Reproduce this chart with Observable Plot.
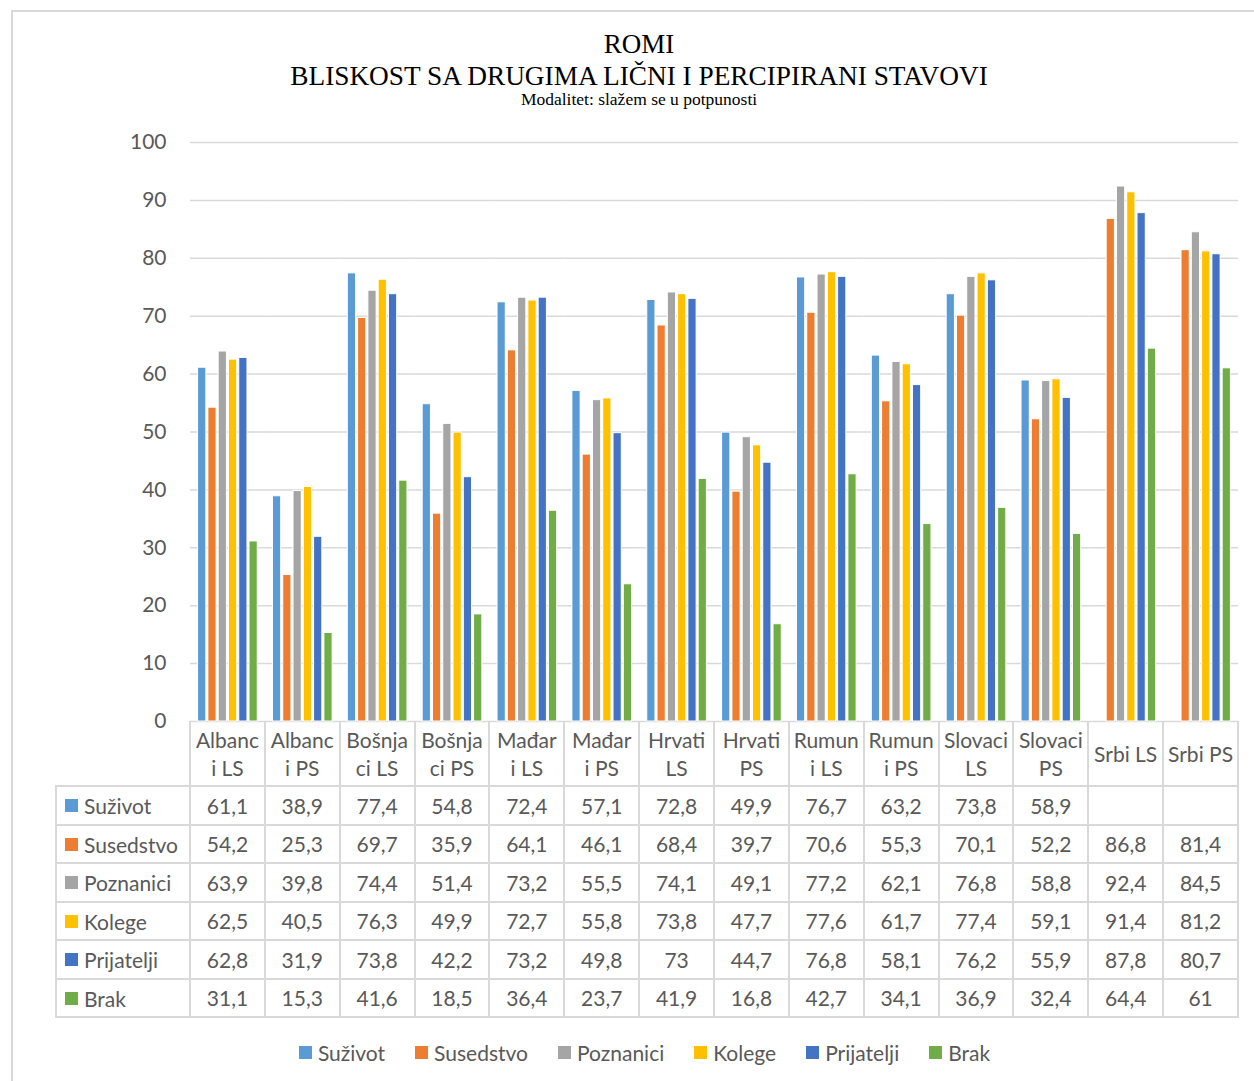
<!DOCTYPE html>
<html>
<head>
<meta charset="utf-8">
<script src="https://cdn.jsdelivr.net/npm/d3@7"></script>
<script src="https://cdn.jsdelivr.net/npm/@observablehq/plot@0.6"></script>
<style>
  html, body { margin: 0; padding: 0; background: #fff; }
  #page { position: relative; width: 1254px; height: 1081px; overflow: hidden; font-family: Lato, "Open Sans", sans-serif; color: #595959; }
  .abs { position: absolute; }
  .title { position: absolute; left: 0; width: 1278px; text-align: center; font-family: "Liberation Serif", "DejaVu Serif", serif; color: #000; white-space: nowrap; }
  .hl { position: absolute; height: 2px; background: #d9d9d9; }
  .vl { position: absolute; width: 2px; background: #d9d9d9; }
  .cell { position: absolute; display: flex; flex-direction: column; align-items: center; justify-content: center; font-size: 21px; line-height: 28px; white-space: nowrap; }
  .rowlab { position: absolute; display: flex; align-items: center; font-size: 21px; white-space: nowrap; }
  .sw { display: inline-block; width: 13px; height: 13px; margin-right: 6px; }
  #legend { position: absolute; left: 0; width: 1289px; top: 1040px; display: flex; justify-content: center; font-size: 21px; }
  #legend .item { display: flex; align-items: center; margin: 0 15px; }
</style>
</head>
<body>
<div id="page">
  <div class="abs" style="left:11px;top:10px;width:1300px;height:1200px;border-top:2px solid #d9d9d9;border-left:2px solid #d9d9d9;"></div>
  <div class="title" style="top:29px;font-size:27px;">ROMI</div>
  <div class="title" style="top:61px;font-size:27.3px;">BLISKOST SA DRUGIMA LIČNI I PERCIPIRANI STAVOVI</div>
  <div class="title" style="top:89px;font-size:17.5px;">Modalitet: slažem se u potpunosti</div>
  <div id="chart" class="abs" style="left:0;top:120px;"></div>
  <div id="table"></div>
  <div id="legend"></div>
</div>
<script>
// ---- data ----
const categories = ["Albanci LS","Albanci PS","Bošnjaci LS","Bošnjaci PS","Mađari LS","Mađari PS","Hrvati LS","Hrvati PS","Rumuni LS","Rumuni PS","Slovaci LS","Slovaci PS","Srbi LS","Srbi PS"];
const headerLabels = [["Albanc","i LS"],["Albanc","i PS"],["Bošnja","ci LS"],["Bošnja","ci PS"],["Mađar","i LS"],["Mađar","i PS"],["Hrvati","LS"],["Hrvati","PS"],["Rumun","i LS"],["Rumun","i PS"],["Slovaci","LS"],["Slovaci","PS"],["Srbi LS"],["Srbi PS"]];
const seriesNames = ["Suživot","Susedstvo","Poznanici","Kolege","Prijatelji","Brak"];
const colors = ["#5B9BD5","#ED7D31","#A5A5A5","#FFC000","#4472C4","#70AD47"];
const suzivot    = [61.1,38.9,77.4,54.8,72.4,57.1,72.8,49.9,76.7,63.2,73.8,58.9,null,null];
const susedstvo  = [54.2,25.3,69.7,35.9,64.1,46.1,68.4,39.7,70.6,55.3,70.1,52.2,86.8,81.4];
const poznanici  = [63.9,39.8,74.4,51.4,73.2,55.5,74.1,49.1,77.2,62.1,76.8,58.8,92.4,84.5];
const kolege     = [62.5,40.5,76.3,49.9,72.7,55.8,73.8,47.7,77.6,61.7,77.4,59.1,91.4,81.2];
const prijatelji = [62.8,31.9,73.8,42.2,73.2,49.8,73,44.7,76.8,58.1,76.2,55.9,87.8,80.7];
const brak       = [31.1,15.3,41.6,18.5,36.4,23.7,41.9,16.8,42.7,34.1,36.9,32.4,64.4,61];
const yTicks = [0,10,20,30,40,50,60,70,80,90,100];

const seriesValues = [suzivot, susedstvo, poznanici, kolege, prijatelji, brak];
const rows = [];
seriesNames.forEach((s, si) => categories.forEach((c, ci) => {
  const v = seriesValues[si][ci];
  if (v != null) rows.push({cat: c, series: s, value: v});
}));

// ---- chart ----
const plotLeft = 190, plotRight = 1238;
const chart = Plot.plot({
  width: 1254, height: 603,
  marginLeft: plotLeft, marginRight: 1254 - plotRight, marginTop: 22, marginBottom: 2,
  style: {fontFamily: "Lato, 'Open Sans', sans-serif", fontSize: "21px", color: "#595959", background: "transparent", overflow: "visible"},
  fx: {domain: categories, padding: 0, round: false, axis: null, label: null},
  x: {domain: seriesNames, paddingInner: 0.2, paddingOuter: 0.74, round: false, axis: null},
  y: {domain: [0, 100], ticks: yTicks, tickSize: 0, tickPadding: 24, label: null, tickFormat: d => String(d)},
  color: {domain: seriesNames, range: colors},
  marks: [
    Plot.ruleY(yTicks, {stroke: "#d9d9d9", strokeWidth: 1.5}),
    Plot.barY(rows, {fx: "cat", x: "series", y: "value", fill: "series", stroke: "white", strokeWidth: 1})
  ]
});
document.getElementById("chart").appendChild(chart);

// ---- data table ----
const table = document.getElementById("table");
const cw = (plotRight - plotLeft) / categories.length;
const headTop = 721, headBottom = 786;
const rowLines = [786, 825, 863, 902, 940, 979, 1017];
const tableLeft = 56;
function add(cls, style, html) {
  const d = document.createElement("div");
  d.className = cls;
  Object.assign(d.style, style);
  if (html != null) d.innerHTML = html;
  table.appendChild(d);
  return d;
}
rowLines.forEach(y => add("hl", {left: tableLeft + "px", top: (y - 1) + "px", width: (plotRight - tableLeft + 1) + "px"}));
for (let i = 0; i <= categories.length; i++) {
  const x = plotLeft + i * cw;
  add("vl", {left: (x - 1) + "px", top: headTop + "px", height: (rowLines[rowLines.length - 1] - headTop + 1) + "px"});
}
add("vl", {left: (tableLeft - 1) + "px", top: (rowLines[0] - 1) + "px", height: (rowLines[rowLines.length - 1] - rowLines[0] + 2) + "px"});
headerLabels.forEach((lines, i) => {
  add("cell", {left: (plotLeft + i * cw) + "px", top: headTop + "px", width: cw + "px", height: (headBottom - headTop) + "px"},
      lines.map(l => `<div>${l}</div>`).join(""));
});
seriesNames.forEach((s, si) => {
  const top = rowLines[si], h = rowLines[si + 1] - rowLines[si];
  add("rowlab", {left: "65px", top: top + "px", height: h + "px"},
      `<span class="sw" style="background:${colors[si]}"></span>${s}`);
  categories.forEach((c, ci) => {
    const v = seriesValues[si][ci];
    add("cell", {left: (plotLeft + ci * cw) + "px", top: top + "px", width: cw + "px", height: h + "px"},
        v == null ? "" : String(v).replace(".", ","));
  });
});

// ---- legend ----
const legend = document.getElementById("legend");
seriesNames.forEach((s, i) => {
  const it = document.createElement("div");
  it.className = "item";
  it.innerHTML = `<span class="sw" style="background:${colors[i]}"></span>${s}`;
  legend.appendChild(it);
});
</script>
</body>
</html>
